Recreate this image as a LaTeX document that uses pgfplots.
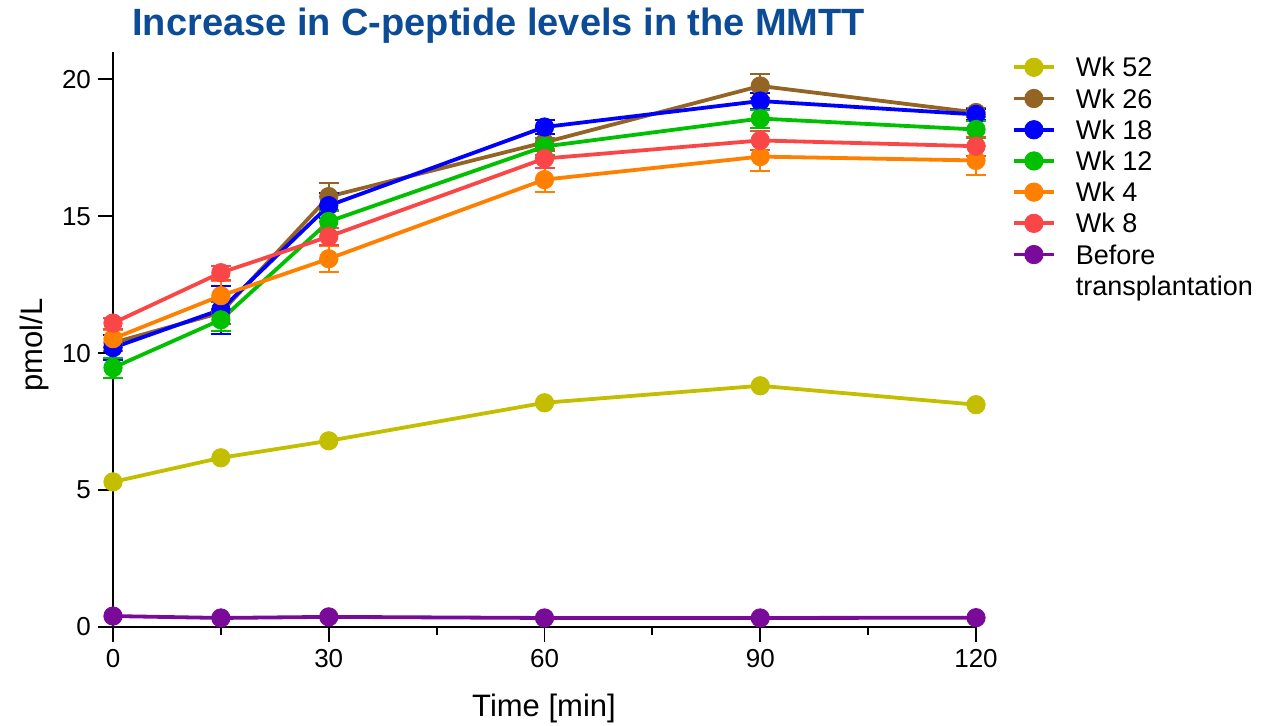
\documentclass[border=0pt]{standalone}
\usepackage{fontspec}
\setmainfont{Liberation Sans}
\usepackage{pgfplots}
\pgfplotsset{compat=1.18}

\definecolor{c52}{RGB}{196,190,0}
\definecolor{c26}{RGB}{148,100,36}
\definecolor{c18}{RGB}{0,0,255}
\definecolor{c12}{RGB}{0,192,0}
\definecolor{c4}{RGB}{255,128,0}
\definecolor{c8}{RGB}{250,70,70}
\definecolor{cpre}{RGB}{122,10,154}
\definecolor{ctitle}{RGB}{12,75,150}

\pgfplotsset{
  ebar/.style={error bars/.cd, y dir=both, y explicit,
    error bar style={line width=1pt},
    error mark options={line width=1pt, mark size=5pt, rotate=90}},
}

\begin{document}
\begin{tikzpicture}
\begin{axis}[
  scale only axis, width=431.5pt, height=287.5pt,
  xmin=0, xmax=120, ymin=0, ymax=21,
  clip=false,
  axis lines=left,
  axis line style={-, line width=1pt},
  xtick={0,30,60,90,120},
  minor xtick={15,45,75,105},
  ytick={0,5,10,15,20},
  tick align=outside,
  major tick length=7.5pt, minor tick length=4pt,
  tick style={line width=0.9pt, black},
  ticklabel style={font=\fontsize{13}{15}\selectfont},
  /pgf/number format/assume math mode=true,
  every axis plot/.append style={line width=1.9pt, mark=*, mark size=4.6pt,
    mark options={line width=0.4pt}},
  legend style={at={(1.0417,0.9948)}, anchor=north west, draw=none, fill=none,
    inner sep=0pt, outer sep=0pt, font=\fontsize{13.5}{15.65}\selectfont,
    column sep=10pt, row sep=3.15pt, cells={anchor=base west},
    nodes={inner sep=0pt}},
  legend image code/.code={\draw[mark repeat=2, mark phase=2, #1]
    plot coordinates {(0pt,4.8pt) (10pt,4.8pt) (20pt,4.8pt)};},
]
\addplot[c52] coordinates {(0,5.30) (15,6.18) (30,6.80) (60,8.19) (90,8.81) (120,8.12)};
\addlegendentry{\strut Wk 52}

\addplot[c26, ebar] coordinates {
  (0,10.38) +- (0,0.30) (15,11.48) +- (0,0.40) (30,15.72) +- (0,0.50)
  (60,17.70) +- (0,0.30) (90,19.76) +- (0,0.45) (120,18.79) +- (0,0.15)};
\addlegendentry{\strut Wk 26}

\addplot[c18, ebar] coordinates {
  (0,10.20) +- (0,0.45) (15,11.59) +- (0,0.88) (30,15.39) +- (0,0.45)
  (60,18.26) +- (0,0.25) (90,19.21) +- (0,0.30) (120,18.72) +- (0,0.20)};
\addlegendentry{\strut Wk 18}

\addplot[c12, ebar] coordinates {
  (0,9.47) +- (0,0.37) (15,11.22) +- (0,0.40) (30,14.81) +- (0,0.40)
  (60,17.55) +- (0,0.30) (90,18.57) +- (0,0.33) (120,18.17) +- (0,0.30)};
\addlegendentry{\strut Wk 12}

\addplot[c4, ebar] coordinates {
  (0,10.53) +- (0,0.30) (15,12.10) +- (0,0.55) (30,13.45) +- (0,0.47)
  (60,16.34) +- (0,0.44) (90,17.18) +- (0,0.53) (120,17.04) +- (0,0.54)};
\addlegendentry{\strut Wk 4}

\addplot[c8, ebar] coordinates {
  (0,11.10) +- (0,0.20) (15,12.94) +- (0,0.25) (30,14.26) +- (0,0.30)
  (60,17.11) +- (0,0.33) (90,17.77) +- (0,0.35) (120,17.56) +- (0,0.35)};
\addlegendentry{\strut Wk 8}

\addplot[cpre] coordinates {(0,0.40) (15,0.33) (30,0.37) (60,0.33) (90,0.33) (120,0.34)};
\addlegendentry{\begin{tabular}[t]{@{}l@{}}\strut Before\\\strut transplantation\end{tabular}}
\end{axis}

% title and axis labels, placed relative to the axis origin
\node[anchor=base west, font=\bfseries\fontsize{19}{22}\selectfont, text=ctitle, inner sep=0pt]
  at (9.5pt,296pt) {Increase in C-peptide levels in the MMTT};
\node[anchor=base, font=\fontsize{15.5}{18}\selectfont, inner sep=0pt]
  at (215.5pt,-44.5pt) {Time [min]};
\node[anchor=base, rotate=90, font=\fontsize{15.5}{18}\selectfont, inner sep=0pt]
  at (-35pt,141pt) {pmol/L};

\pgfresetboundingbox
\useasboundingbox (-56.5pt,-49pt) rectangle (580pt,313.5pt);
\end{tikzpicture}
\end{document}
